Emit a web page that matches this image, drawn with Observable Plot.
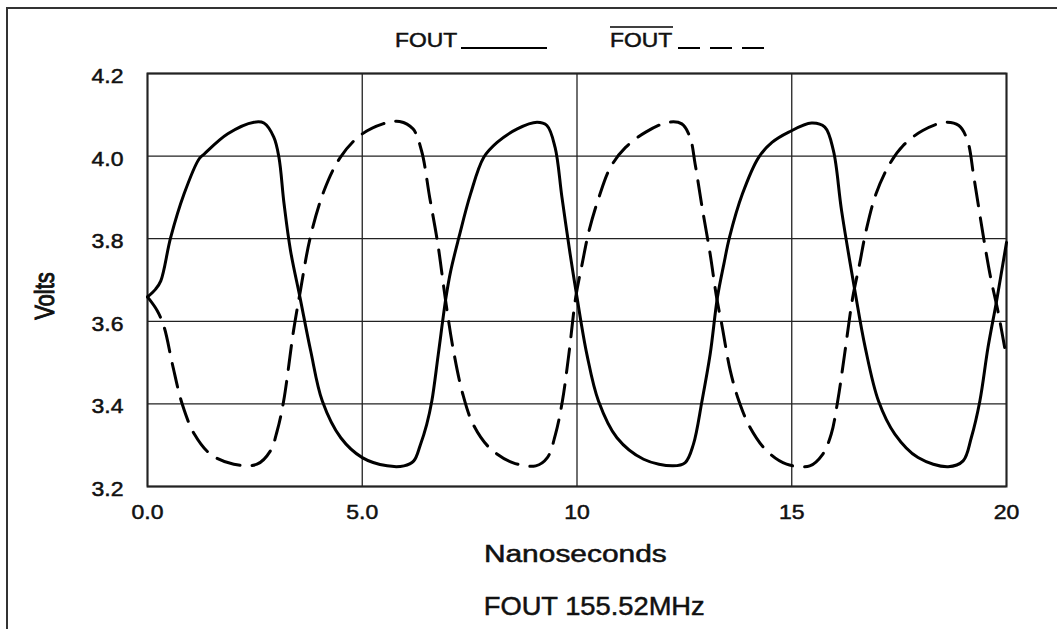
<!DOCTYPE html>
<html>
<head>
<meta charset="utf-8">
<script src="https://cdn.jsdelivr.net/npm/d3@7"></script>
<script src="https://cdn.jsdelivr.net/npm/@observablehq/plot@0.6"></script>
<style>
  html, body { margin: 0; padding: 0; background: #fff; }
  #wrap { position: relative; width: 1057px; height: 629px; overflow: hidden; font-family: "Liberation Sans", Arial, sans-serif; color: #111; }
  #border { position: absolute; left: 6px; top: 7px; width: 1057px; height: 640px; border-left: 2px solid #333; border-top: 2px solid #333; }
  #chart { position: absolute; left: 0; top: 0; }
  .lbl { position: absolute; white-space: nowrap; transform-origin: center center; -webkit-text-stroke: 0.5px #111; }
</style>
</head>
<body>
<div id="wrap">
  <div id="border"></div>
  <div id="chart"></div>
</div>
<script>
// ---- data ----
const xTicks = [0, 5, 10, 15, 20];
const xTickLabels = ["0.0", "5.0", "10", "15", "20"];
const yTicks = [3.2, 3.4, 3.6, 3.8, 4.0, 4.2];
const yTickLabels = ["3.2", "3.4", "3.6", "3.8", "4.0", "4.2"];

const foutTime = [0, 0.19, 0.31, 0.54, 0.85, 1.20, 1.32, 1.87, 2.48, 2.71, 2.94, 3.06, 3.18, 3.33, 3.55, 3.80, 4.07, 4.50, 5.00, 5.58, 5.97, 6.20, 6.35, 6.50, 6.62, 6.77, 6.95, 7.06, 7.25, 7.52, 7.83, 8.14, 8.61, 9.07, 9.30, 9.49, 9.65, 9.84, 10.0, 10.23, 10.50, 10.93, 11.55, 12.24, 12.52, 12.71, 12.91, 13.10, 13.27, 13.42, 13.55, 13.85, 14.23, 14.54, 14.93, 15.46, 15.77, 15.97, 16.16, 16.47, 16.71, 17.02, 17.40, 17.94, 18.64, 18.99, 19.18, 19.38, 19.57, 19.77, 20.0];
const foutVolts = [3.659, 3.678, 3.698, 3.803, 3.908, 3.993, 4.005, 4.054, 4.082, 4.080, 4.046, 3.997, 3.884, 3.771, 3.658, 3.528, 3.407, 3.318, 3.270, 3.250, 3.250, 3.262, 3.300, 3.350, 3.407, 3.520, 3.658, 3.722, 3.803, 3.908, 3.997, 4.033, 4.066, 4.082, 4.074, 4.021, 3.900, 3.763, 3.658, 3.520, 3.407, 3.318, 3.266, 3.250, 3.258, 3.302, 3.407, 3.520, 3.658, 3.739, 3.803, 3.908, 3.997, 4.033, 4.058, 4.080, 4.070, 4.013, 3.868, 3.674, 3.537, 3.407, 3.327, 3.270, 3.248, 3.262, 3.318, 3.407, 3.537, 3.650, 3.791];

const foutBarTime = [0, 0.23, 0.39, 0.58, 0.81, 1.09, 1.47, 2.01, 2.55, 2.86, 3.02, 3.17, 3.40, 3.56, 3.79, 4.11, 4.49, 4.95, 5.48, 5.87, 6.18, 6.38, 6.57, 6.76, 6.93, 7.11, 7.34, 7.58, 7.96, 8.50, 9.04, 9.31, 9.50, 9.66, 9.81, 9.97, 10.12, 10.28, 10.51, 10.78, 11.13, 11.60, 12.13, 12.44, 12.63, 12.75, 12.90, 13.10, 13.25, 13.37, 13.57, 13.77, 14.03, 14.42, 14.88, 15.42, 15.72, 15.92, 16.07, 16.23, 16.42, 16.58, 16.73, 16.96, 17.28, 17.59, 18.05, 18.58, 18.89, 19.09, 19.24, 19.44, 19.63, 19.80, 20.0];
const foutBarVolts = [3.659, 3.625, 3.585, 3.496, 3.399, 3.327, 3.278, 3.254, 3.254, 3.286, 3.335, 3.407, 3.577, 3.674, 3.803, 3.916, 3.997, 4.050, 4.078, 4.084, 4.066, 4.013, 3.900, 3.787, 3.658, 3.537, 3.424, 3.351, 3.294, 3.258, 3.250, 3.270, 3.327, 3.407, 3.520, 3.658, 3.739, 3.819, 3.900, 3.973, 4.021, 4.058, 4.082, 4.078, 4.046, 3.981, 3.884, 3.763, 3.658, 3.593, 3.480, 3.407, 3.343, 3.286, 3.254, 3.250, 3.278, 3.327, 3.407, 3.520, 3.658, 3.739, 3.819, 3.908, 3.981, 4.025, 4.062, 4.082, 4.074, 4.038, 3.949, 3.819, 3.706, 3.625, 3.512];

const legendNames = ["FOUT", "FOUT"];
const xLabel = "Nanoseconds";
const yLabel = "Volts";
const title = "FOUT 155.52MHz";

// ---- build ----
const fout = foutTime.map((t, i) => ({t, v: foutVolts[i]}));
const foutBar = foutBarTime.map((t, i) => ({t, v: foutBarVolts[i]}));
const STRETCH = 1.15;
const FONT = '"Liberation Sans", Arial, sans-serif';

const chart = Plot.plot({
  width: 1057,
  height: 629,
  marginLeft: 147,
  marginRight: 51,
  marginTop: 73,
  marginBottom: 143,
  style: {fontFamily: FONT, fontSize: "20px", color: "#111", background: "transparent"},
  x: {domain: [0, 20]},
  y: {domain: [3.2, 4.2]},
  marks: [
    Plot.gridX(xTicks, {stroke: "#222", strokeOpacity: 1, strokeWidth: 1.3}),
    Plot.gridY(yTicks, {stroke: "#222", strokeOpacity: 1, strokeWidth: 1.3}),
    Plot.frame({stroke: "#222", strokeWidth: 2}),
    Plot.axisX(xTicks, {tickSize: 0, tickPadding: 18, label: null, tickFormat: d => xTickLabels[xTicks.indexOf(d)]}),
    Plot.axisY(yTicks, {tickSize: 0, tickPadding: 24, label: null, dy: 3, tickFormat: d => yTickLabels[yTicks.findIndex(v => Math.abs(v - d) < 1e-9)]}),
    Plot.line(foutBar, {x: "t", y: "v", curve: "catmull-rom", stroke: "#000", strokeWidth: 3, strokeDasharray: "24,12"}),
    Plot.line(fout, {x: "t", y: "v", curve: "catmull-rom", stroke: "#000", strokeWidth: 3})
  ]
});
// horizontal stretch + slightly heavier strokes of the tick labels to match the reference lettering
chart.querySelectorAll('g[aria-label$="tick label"] text').forEach(t => {
  const tr = t.getAttribute("transform") || "";
  t.setAttribute("transform", tr + ` scale(${STRETCH},1)`);
  t.setAttribute("stroke", "#111");
  t.setAttribute("stroke-width", "0.5");
});
document.getElementById("chart").appendChild(chart);

const wrap = document.getElementById("wrap");
function addLabel(text, cx, cy, size, extra) {
  const d = document.createElement("div");
  d.className = "lbl";
  d.textContent = text;
  d.style.fontSize = size + "px";
  d.style.lineHeight = "1";
  wrap.appendChild(d);
  const w = d.offsetWidth, h = d.offsetHeight;
  d.style.left = (cx - w / 2) + "px";
  d.style.top = (cy - h / 2) + "px";
  d.style.transform = extra;
  return d;
}
addLabel(xLabel, 575, 554, 23, `scaleX(1.3)`);
addLabel(title, 594, 606, 26, `scaleX(1.05)`);
const vl = addLabel(yLabel, 45, 296, 22, `rotate(-90deg) scaleY(1.25)`);
vl.style.webkitTextStroke = "0.8px #111";

// legend
const lg = document.createElementNS("http://www.w3.org/2000/svg", "svg");
lg.setAttribute("width", 1057); lg.setAttribute("height", 70);
lg.style.position = "absolute"; lg.style.left = "0"; lg.style.top = "0";
lg.innerHTML = `
  <g font-family='${FONT}' font-size="19.5" fill="#111" stroke="#111" stroke-width="0.5">
    <text x="395" y="47" transform="translate(395,0) scale(1.17,1) translate(-395,0)">${legendNames[0]}</text>
    <text x="610" y="47" transform="translate(610,0) scale(1.17,1) translate(-610,0)">${legendNames[1]}</text>
  </g>
  <line x1="461" x2="547" y1="48" y2="48" stroke="#000" stroke-width="2.2"/>
  <line x1="610" x2="673" y1="27" y2="27" stroke="#000" stroke-width="1.3"/>
  <line x1="678" x2="767" y1="48" y2="48" stroke="#000" stroke-width="2.2" stroke-dasharray="22,10"/>`;
wrap.appendChild(lg);
</script>
</body>
</html>
